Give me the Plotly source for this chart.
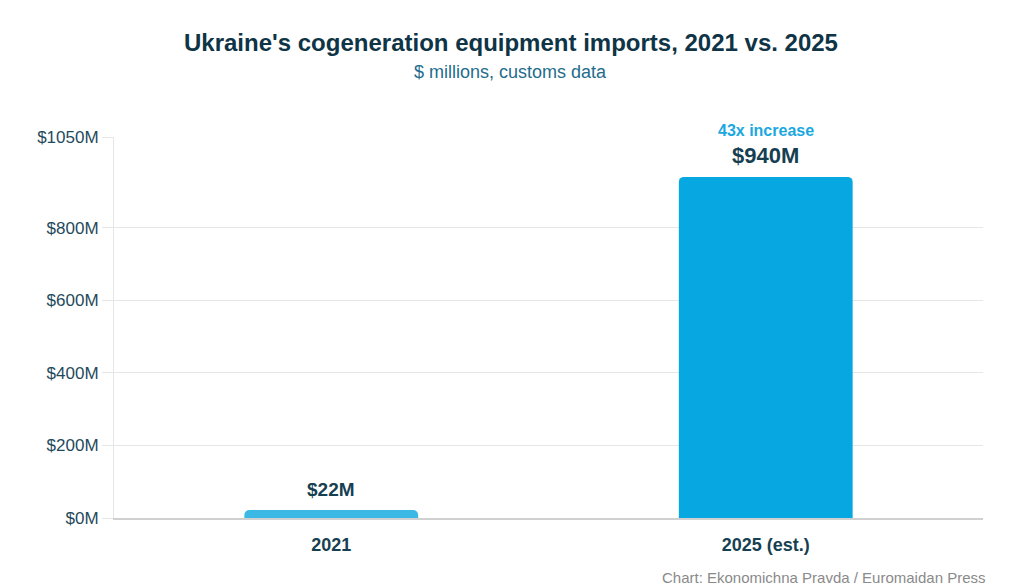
import plotly.graph_objects as go

categories = ["2021", "2025 (est.)"]
values = [22, 940]
value_labels = ["$22M", "$940M"]
bar_colors = ["#3bb9e4", "#07a8e1"]
label_sizes = [19, 22]
note_text = "43x increase"
tick_vals = [0, 200, 400, 600, 800, 1050]
tick_text = ["$0M", "$200M", "$400M", "$600M", "$800M", "$1050M"]

FONT = "Liberation Sans, Arial, sans-serif"

fig = go.Figure()
fig.add_trace(go.Bar(
    x=categories, y=values,
    marker=dict(color=bar_colors, line=dict(width=0), cornerradius=5),
    hoverinfo="skip",
))

annotations = []
for i, (v, t, s) in enumerate(zip(values, value_labels, label_sizes)):
    annotations.append(dict(x=i, y=v, text="<b>%s</b>" % t, showarrow=False,
                            xref="x", yref="y", yanchor="middle", yshift=21,
                            font=dict(family=FONT, size=s, color="#173f52")))
annotations.append(dict(x=len(values) - 1, y=values[-1], text="<b>%s</b>" % note_text,
                        showarrow=False, xref="x", yref="y", yanchor="middle", yshift=46,
                        font=dict(family=FONT, size=16, color="#1aa8e0")))
annotations.append(dict(x=0.5, y=1, xref="paper", yref="paper", xanchor="center",
                        yanchor="middle", yshift=95, xshift=-38, showarrow=False,
                        text="<b>Ukraine's cogeneration equipment imports, 2021 vs. 2025</b>",
                        font=dict(family=FONT, size=24, color="#0e3446")))
annotations.append(dict(x=0.5, y=1, xref="paper", yref="paper", xanchor="center",
                        yanchor="middle", yshift=65, xshift=-38, showarrow=False,
                        text="$ millions, customs data",
                        font=dict(family=FONT, size=18, color="#236c8c")))
annotations.append(dict(x=1, y=0, xref="paper", yref="paper", xanchor="right", yanchor="middle",
                        xshift=5, yshift=-59, showarrow=False,
                        text="Chart: Ekonomichna Pravda / Euromaidan Press",
                        font=dict(family=FONT, size=15, color="#8a8a8a")))

fig.update_layout(
    width=1024, height=587,
    margin=dict(l=114, r=41, t=137, b=69),
    paper_bgcolor="white", plot_bgcolor="white",
    bargap=0.6,
    showlegend=False,
    annotations=annotations,
    xaxis=dict(
        type="category",
        range=[-0.5, 1.5],
        tickfont=dict(family=FONT, size=18, color="#173f52"),
        tickprefix="<b>", ticksuffix="</b>",
        showline=True, linecolor="#d0d0d0", linewidth=2,
        showgrid=False, ticks="", ticklen=0,
        ticklabelstandoff=9,
        fixedrange=True,
    ),
    yaxis=dict(
        range=[0, 1050],
        tickvals=tick_vals, ticktext=tick_text,
        tickfont=dict(family=FONT, size=17, color="#1f4a5c"),
        showgrid=True, gridcolor="#e6e6e6", gridwidth=1,
        ticks="outside", ticklen=11, tickcolor="#e6e6e6",
        showline=True, linecolor="#e6e6e6", linewidth=1,
        zeroline=False,
        fixedrange=True,
    ),
)

fig.write_html("out.html")
